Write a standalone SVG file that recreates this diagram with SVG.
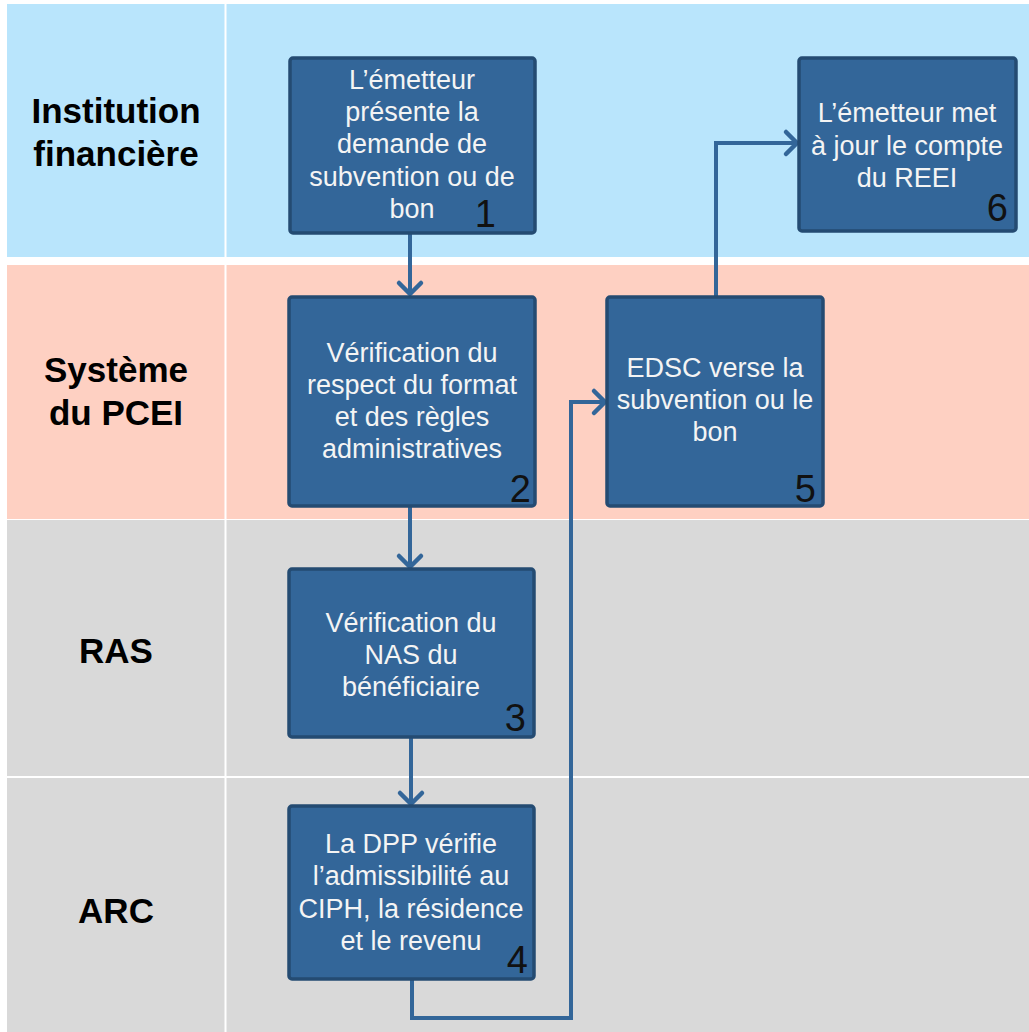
<svg xmlns="http://www.w3.org/2000/svg" width="1029" height="1032" viewBox="0 0 1029 1032">
  <style>
    .lane-label { font-family: "Liberation Sans", Arial, sans-serif; font-weight: bold; font-size: 35px; fill: #000; text-anchor: middle; }
    .box { fill: #336699; stroke: #244B72; stroke-width: 3.5; }
    .box-text { font-family: "Liberation Sans", Arial, sans-serif; font-size: 27px; fill: #F4F4F4; text-anchor: middle; }
    .num { font-family: "Liberation Sans", Arial, sans-serif; font-size: 38px; fill: #111; text-anchor: end; }
    .conn { fill: none; stroke: #336699; stroke-width: 4; stroke-linejoin: miter; }
  </style>
  <defs>
    <marker id="arr" markerUnits="userSpaceOnUse" markerWidth="30" markerHeight="30" viewBox="-15 -15 30 30" refX="0" refY="0" orient="auto" overflow="visible">
      <path d="M-12,-11 L-1,0 L-12,11" fill="none" stroke="#336699" stroke-width="4.5" stroke-linecap="round" stroke-linejoin="round"/>
    </marker>
  </defs>
  <rect width="1029" height="1032" fill="#FFFFFF"/>
  <g id="lanes">
    <rect x="7" y="4" width="1022" height="253" fill="#B9E5FC"/>
    <rect x="7" y="265" width="1022" height="254" fill="#FED0C2"/>
    <rect x="7" y="520" width="1022" height="256" fill="#D9D9D9"/>
    <rect x="7" y="778" width="1022" height="254" fill="#D9D9D9"/>
    <line x1="225.5" y1="4" x2="225.5" y2="1032" stroke="#FFFFFF" stroke-width="2"/>
    <text class="lane-label" x="116" y="123">Institution</text>
    <text class="lane-label" x="116" y="166">financière</text>
    <text class="lane-label" x="116" y="382">Système</text>
    <text class="lane-label" x="116" y="425">du PCEI</text>
    <text class="lane-label" x="116" y="663">RAS</text>
    <text class="lane-label" x="116" y="923">ARC</text>
  </g>
  <g id="connectors">
    <path class="conn" d="M410,233 L410,295" marker-end="url(#arr)"/>
    <path class="conn" d="M410,506 L410,568" marker-end="url(#arr)"/>
    <path class="conn" d="M411,737 L411,805" marker-end="url(#arr)"/>
    <path class="conn" d="M412,979 L412,1018 L571,1018 L571,402 L606,402" marker-end="url(#arr)"/>
    <path class="conn" d="M716,297 L716,143 L798,143" marker-end="url(#arr)"/>
  </g>
  <g id="node1">
    <rect class="box" x="290" y="58" width="245" height="175" rx="3"/>
    <text class="box-text" x="412" y="89">L’émetteur</text>
    <text class="box-text" x="412" y="121">présente la</text>
    <text class="box-text" x="412" y="153">demande de</text>
    <text class="box-text" x="412" y="186">subvention ou de</text>
    <text class="box-text" x="412" y="218">bon</text>
    <text class="num" x="496" y="227">1</text>
  </g>
  <g id="node2">
    <rect class="box" x="289" y="297" width="246" height="209" rx="3"/>
    <text class="box-text" x="412" y="362">Vérification du</text>
    <text class="box-text" x="412" y="394">respect du format</text>
    <text class="box-text" x="412" y="426">et des règles</text>
    <text class="box-text" x="412" y="458">administratives</text>
    <text class="num" x="531" y="502">2</text>
  </g>
  <g id="node3">
    <rect class="box" x="289" y="569" width="245" height="168" rx="3"/>
    <text class="box-text" x="411" y="632">Vérification du</text>
    <text class="box-text" x="411" y="664">NAS du</text>
    <text class="box-text" x="411" y="696">bénéficiaire</text>
    <text class="num" x="526" y="731">3</text>
  </g>
  <g id="node4">
    <rect class="box" x="289" y="806" width="245" height="173" rx="3"/>
    <text class="box-text" x="411" y="853">La DPP vérifie</text>
    <text class="box-text" x="411" y="885">l’admissibilité au</text>
    <text class="box-text" x="411" y="918">CIPH, la résidence</text>
    <text class="box-text" x="411" y="950">et le revenu</text>
    <text class="num" x="528" y="973">4</text>
  </g>
  <g id="node5">
    <rect class="box" x="607" y="297" width="216" height="209" rx="3"/>
    <text class="box-text" x="715" y="377">EDSC verse la</text>
    <text class="box-text" x="715" y="409">subvention ou le</text>
    <text class="box-text" x="715" y="441">bon</text>
    <text class="num" x="816" y="502">5</text>
  </g>
  <g id="node6">
    <rect class="box" x="799" y="58" width="217" height="173" rx="3"/>
    <text class="box-text" x="907" y="122">L’émetteur met</text>
    <text class="box-text" x="907" y="155">à jour le compte</text>
    <text class="box-text" x="907" y="187">du REEI</text>
    <text class="num" x="1008" y="221">6</text>
  </g>
</svg>
